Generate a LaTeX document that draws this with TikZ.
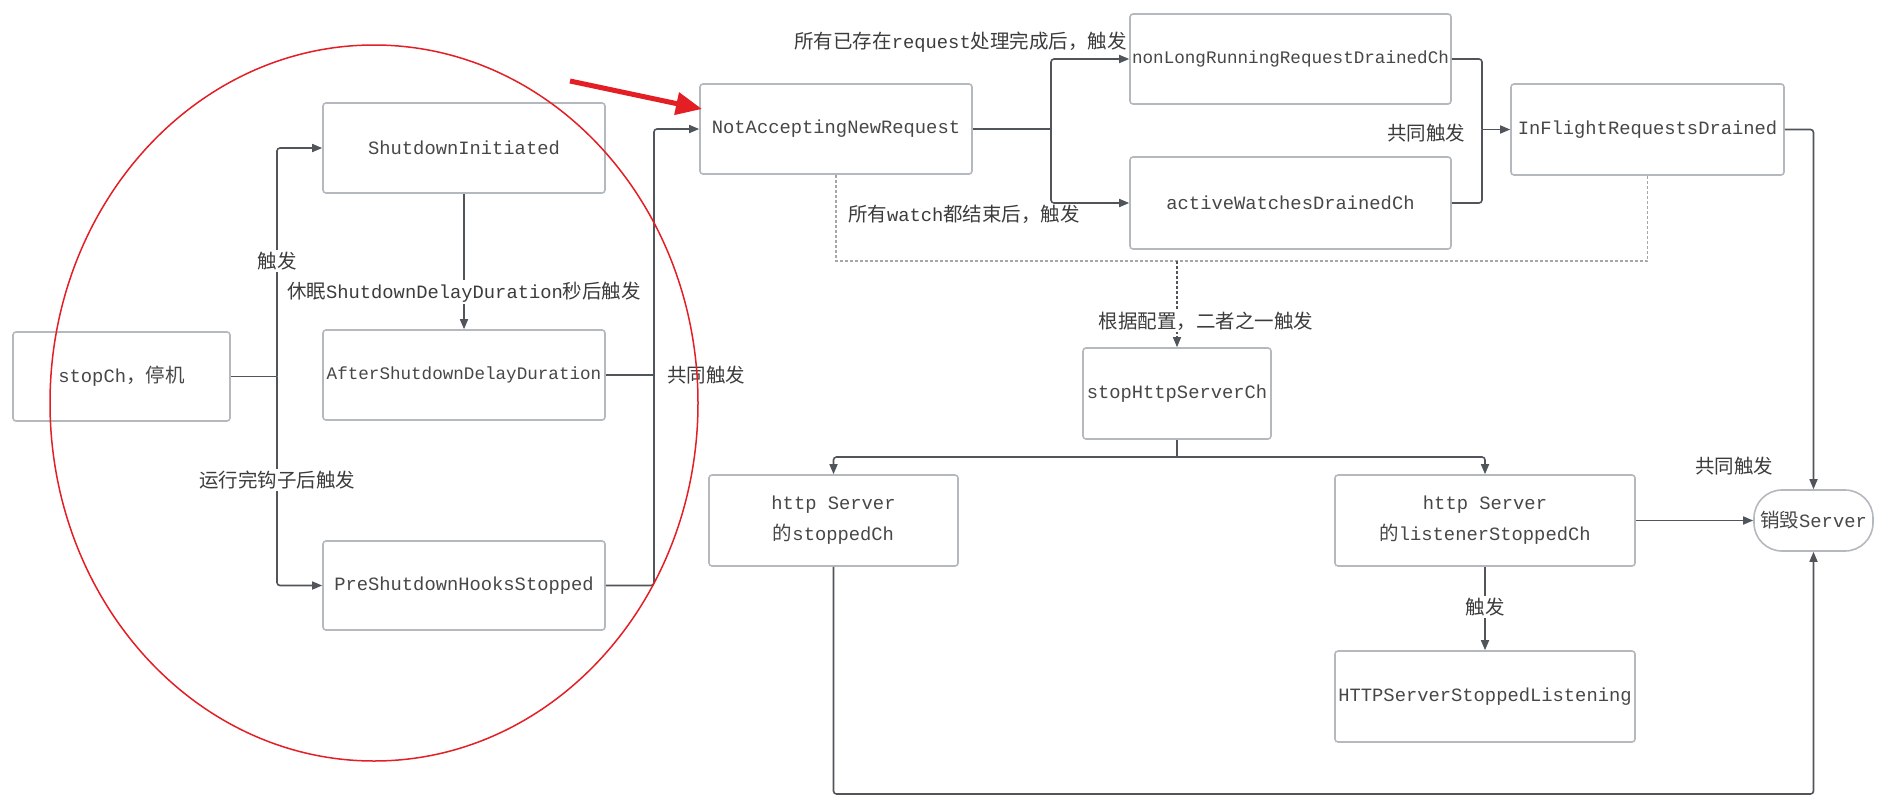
\documentclass[tikz,border=0pt]{standalone}
\usepackage{fontspec}
\setmainfont{Liberation Mono}
\newfontfamily\cjk{Noto Sans CJK SC}
\usetikzlibrary{arrows.meta}
\definecolor{boxc}{HTML}{B4B8BF}
\definecolor{linec}{HTML}{50555C}
\definecolor{txtc}{HTML}{3C3C3C}
\definecolor{btxtc}{HTML}{474747}
\definecolor{redc}{HTML}{E31E24}
\newcommand\zh[1]{{\cjk\fontsize{19.5}{24}\selectfont #1}}
\begin{document}
\begin{tikzpicture}[x=1pt,y=-1pt,
  box/.style={draw=boxc,line width=1.6pt,rounded corners=3pt,fill=white,inner sep=0pt,align=center,text=btxtc,font=\fontsize{18.8}{31}\selectfont},
  conn/.style={draw=linec,line width=1.6pt,rounded corners=3pt},
  arr/.style={conn,-{Triangle[length=10pt,width=8pt]}},
  lbl/.style={fill=white,inner sep=2pt,text=txtc,font=\fontsize{18.8}{24}\selectfont},
  plainlbl/.style={inner sep=1pt,text=txtc,font=\fontsize{18.8}{24}\selectfont},
  dotl/.style={draw=gray!70,line width=1.2pt,dash pattern=on 3pt off 2pt}]
\useasboundingbox (0,0) rectangle (1877,806);

% nodes
\node[box,minimum width=217pt,minimum height=89pt] (stop) at (121.5,376.5) {stopCh\zh{，停机}};
\node[box,minimum width=282pt,minimum height=90pt] (si) at (464,148) {ShutdownInitiated};
\node[box,minimum width=282pt,minimum height=90pt,font=\fontsize{17.6}{31}\selectfont] (asd) at (464,375) {AfterShutdownDelayDuration};
\node[box,minimum width=282pt,minimum height=89pt] (psh) at (464,585.5) {PreShutdownHooksStopped};
\node[box,minimum width=272pt,minimum height=90pt] (nanr) at (836,129) {NotAcceptingNewRequest};
\node[box,minimum width=321pt,minimum height=90pt,font=\fontsize{17.6}{31}\selectfont] (nlr) at (1290.5,59) {nonLongRunningRequestDrainedCh};
\node[box,minimum width=321pt,minimum height=92pt] (awd) at (1290.5,203) {activeWatchesDrainedCh};
\node[box,minimum width=273pt,minimum height=91pt] (ifr) at (1647.5,129.5) {InFlightRequestsDrained};
\node[box,minimum width=188pt,minimum height=91pt] (shs) at (1177,393.5) {stopHttpServerCh};
\node[box,minimum width=249pt,minimum height=91pt] (hss) at (833.5,520.5) {http Server\\\zh{的}stoppedCh};
\node[box,minimum width=300pt,minimum height=91pt] (hls) at (1485,520.5) {http Server\\\zh{的}listenerStoppedCh};
\node[box,minimum width=300pt,minimum height=91pt] (hssl) at (1485,696.5) {HTTPServerStoppedListening};
\node[box,minimum width=119pt,minimum height=61pt,rounded corners=28pt] (destroy) at (1813.5,520.5) {\zh{销毁}Server};

% left fan-out
\coordinate (j1) at (277,376.5);
\draw[conn] (stop.east) -- (j1);
\draw[arr] (j1) |- (si.west);
\draw[arr] (j1) |- (psh.west);
\node[lbl] (l1) at (277,261) {\zh{触发}};
\node[lbl] (l2) at (277,480) {\zh{运行完钩子后触发}};

\draw[arr] (si.south) -- (asd.north);
\node[lbl] (l3) at (464,292) {\zh{休眠}ShutdownDelayDuration\zh{秒后触发}};

% merge to NotAccepting
\coordinate (j2) at (654,375);
\draw[conn] (asd.east) -- (j2);
\draw[conn] (psh.east) -| (j2);
\draw[arr] (j2) |- (nanr.west);
\node[plainlbl] (l4) at (706,375) {\zh{共同触发}};

% branch from NotAccepting
\coordinate (j3) at (1051,129);
\draw[conn] (nanr.east) -- (j3);
\draw[arr] (j3) |- (nlr.west);
\draw[arr] (j3) |- (awd.west);
\node[plainlbl,anchor=east] (l5) at (1128,42) {\zh{所有已存在}request\zh{处理完成后，触发}};
\node[plainlbl] (l6) at (964,214) {\zh{所有}watch\zh{都结束后，触发}};

% merge to InFlight
\coordinate (j4) at (1482,129.5);
\draw[conn] (nlr.east) -| (j4);
\draw[conn] (awd.east) -| (j4);
\draw[arr] (j4) -- (ifr.west);
\node[plainlbl] (l7) at (1426,133) {\zh{共同触发}};

\draw[arr] (ifr.east) -| (destroy.north);

% dotted alternative
\coordinate (d1) at (1177,261);
\draw[dotl] (nanr.south) |- (d1) -| (ifr.south);
\draw[dotl,-{Triangle[length=10pt,width=8pt]},linec] (d1) -- (shs.north);
\node[lbl] (l8) at (1206,321) {\zh{根据配置，二者之一触发}};

% stopHttpServerCh fan-out
\coordinate (j5) at (1177,457);
\draw[conn] (shs.south) -- (j5);
\draw[arr] (j5) -| (hss.north);
\draw[arr] (j5) -| (hls.north);

\draw[arr] (hls.east) -- (destroy.west);
\node[plainlbl] (l9) at (1734,466) {\zh{共同触发}};

\draw[arr] (hls.south) -- (hssl.north);
\node[lbl] (l10) at (1485,607) {\zh{触发}};

\coordinate (j6) at (833.5,794);
\draw[arr] (hss.south) -- (j6) -| (destroy.south);

% red annotations
\draw[redc,line width=1.5pt] (374,403) ellipse [x radius=324pt,y radius=358pt];
\coordinate (ra1) at (570,81);
\coordinate (ra2) at (702,109);
\draw[redc,line width=5pt,-{Triangle[length=26pt,width=22pt]}] (ra1) -- (ra2);
\end{tikzpicture}
\end{document}
